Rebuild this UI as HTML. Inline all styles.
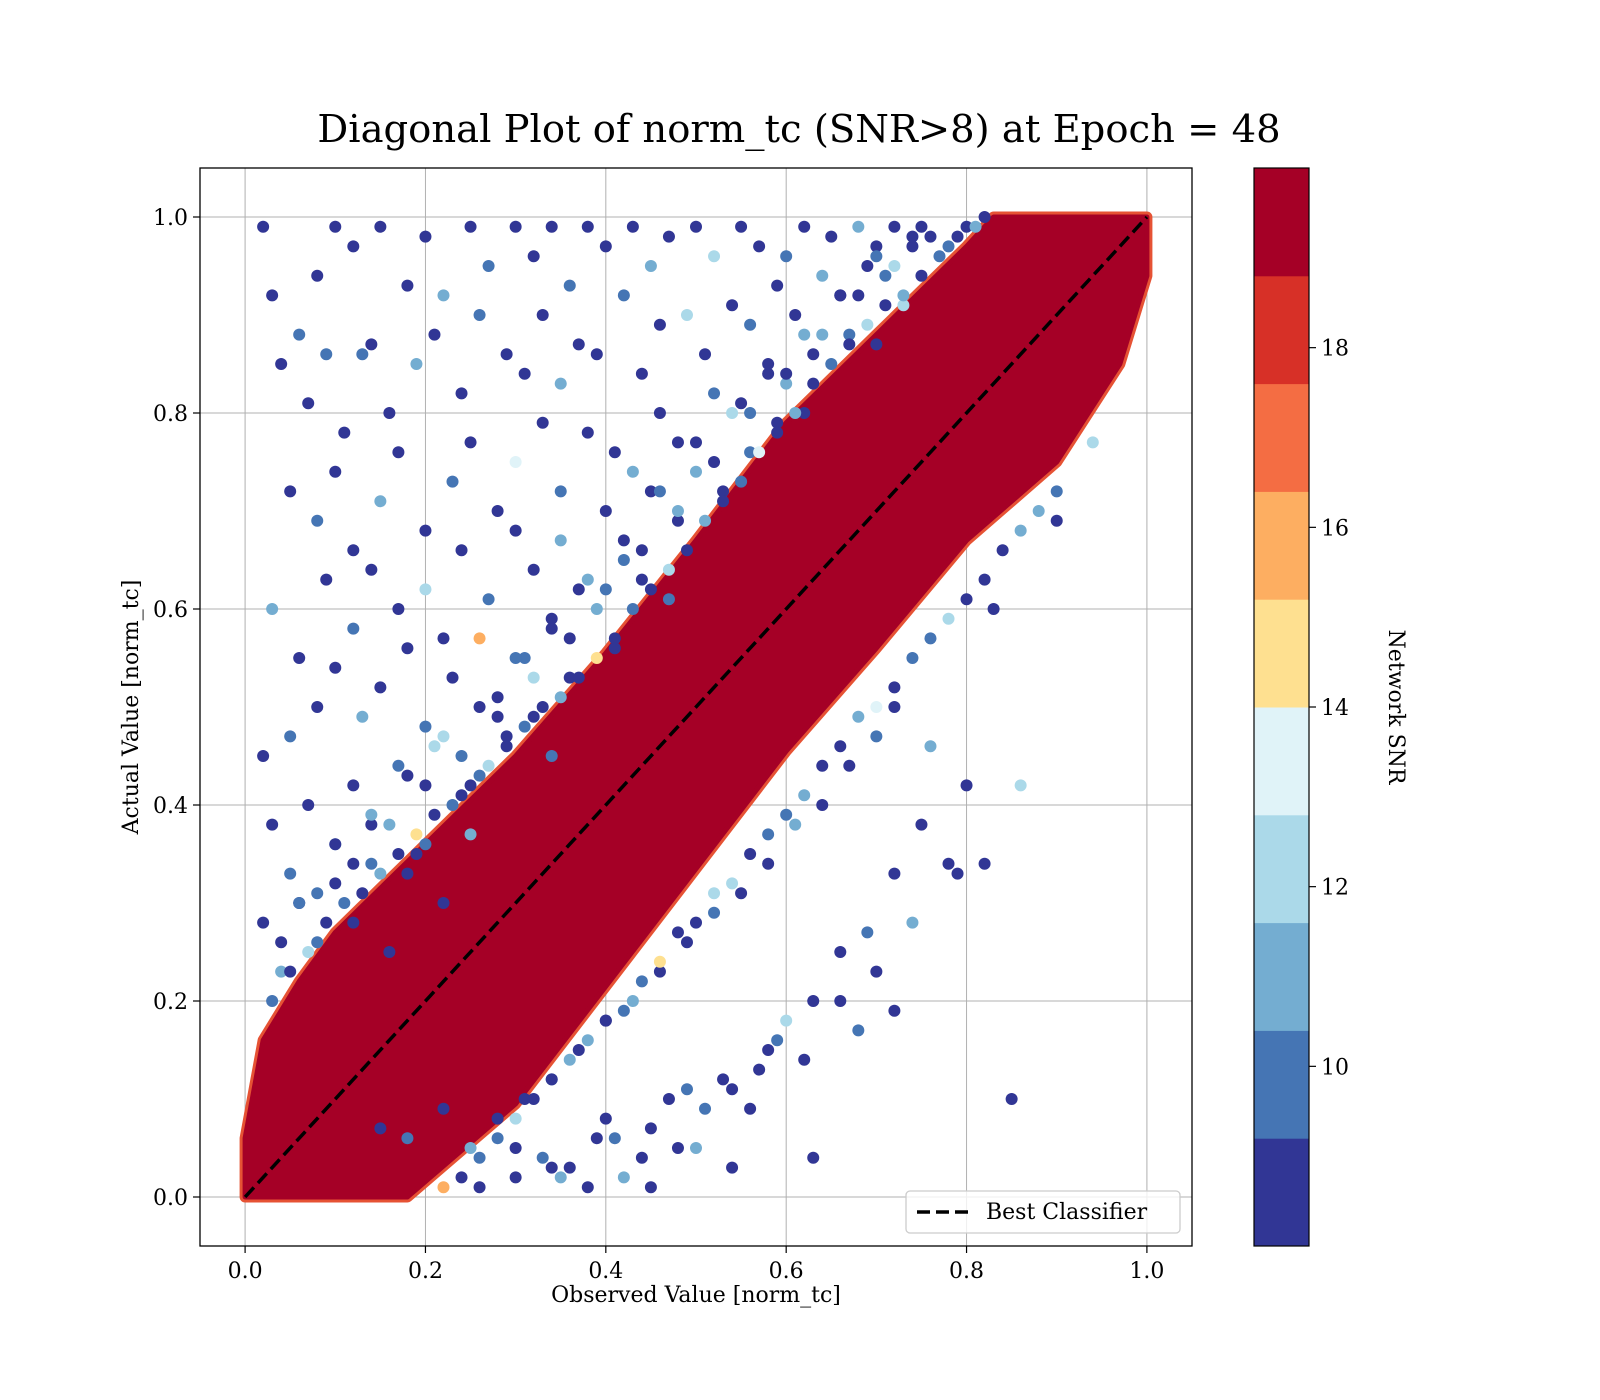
<!DOCTYPE html>
<html><head><meta charset="utf-8"><style>
body{margin:0;background:#fff}
svg{display:block;font-family:"DejaVu Serif","Liberation Serif",serif}
</style></head><body>
<svg id="chart" width="1600" height="1400" viewBox="0 0 1600 1400">
<text x="799" y="142" font-size="38.5" text-anchor="middle">Diagonal Plot of norm_tc (SNR&gt;8) at Epoch = 48</text>
<defs><clipPath id="clip"><rect x="200" y="168" width="992" height="1078"/></clipPath></defs>
<g id="grid"></g>
<g id="band" clip-path="url(#clip)"></g>
<g id="pts" clip-path="url(#clip)"></g>
<line id="diag" stroke="#000" stroke-width="3.5" stroke-dasharray="13,6"/>
<rect x="200" y="168" width="992" height="1078" fill="none" stroke="#000" stroke-width="1.3"/>
<g id="ticks" font-size="22"></g>
<text x="696" y="1302" font-size="22" text-anchor="middle">Observed Value [norm_tc]</text>
<text transform="translate(138,707) rotate(-90)" font-size="22" text-anchor="middle">Actual Value [norm_tc]</text>
<g>
<rect x="906" y="1191" width="274" height="42" rx="4" fill="#fff" fill-opacity="0.8" stroke="#ccc" stroke-width="1.3"/>
<line x1="917" y1="1212" x2="970" y2="1212" stroke="#000" stroke-width="3.5" stroke-dasharray="13,6"/>
<text x="986" y="1219" font-size="22">Best Classifier</text>
</g>
<g id="cbar"></g>
<text transform="translate(1389,707) rotate(90)" font-size="22" text-anchor="middle">Network SNR</text>
</svg>
<script>
const xTicks=[0,0.2,0.4,0.6,0.8,1.0];
const yTicks=[0,0.2,0.4,0.6,0.8,1.0];
const cbTicks=[10,12,14,16,18];
const cbColors=["#313695","#4575b4","#74add1","#abd9e9","#e0f3f8","#fee090","#fdae61","#f46d43","#d73027","#a50026"];
const bandUpper=[[0,0],[0,0.06],[0.02,0.16],[0.06,0.22],[0.1,0.27],[0.2,0.36],[0.3,0.45],[0.4,0.555],[0.5,0.67],[0.6,0.79],[0.7,0.88],[0.8,0.97],[0.83,1.0],[1.0,1.0]];
const bandLower=[[1.0,0.94],[0.97,0.85],[0.9,0.75],[0.8,0.67],[0.7,0.56],[0.6,0.455],[0.5,0.335],[0.4,0.215],[0.3,0.095],[0.18,0.0],[0,0]];
const ptX=[0.02,0.03,0.06,0.08,0.1,0.12,0.13,0.15,0.18,0.2,0.22,0.25,0.27,0.3,0.32,0.34,0.36,0.38,0.4,0.43,0.45,0.47,0.5,0.52,0.55,0.57,0.6,0.62,0.65,0.68,0.7,0.72,0.75,0.78,0.8,0.82,
0.04,0.07,0.09,0.11,0.14,0.16,0.19,0.21,0.24,0.26,0.29,0.31,0.33,0.35,0.37,0.39,0.42,0.44,0.46,0.49,0.51,0.54,0.56,0.59,0.61,0.64,0.66,0.69,0.71,0.74,
0.05,0.08,0.1,0.12,0.15,0.17,0.2,0.23,0.25,0.28,0.3,0.33,0.35,0.38,0.41,0.43,0.46,0.48,0.52,0.55,0.58,0.6,0.63,0.67,0.7,0.73,
0.03,0.06,0.09,0.12,0.14,0.17,0.2,0.22,0.24,0.27,0.3,0.32,0.35,0.37,0.4,0.42,0.45,0.48,0.5,0.53,0.56,0.59,0.62,
0.02,0.05,0.08,0.1,0.13,0.15,0.18,0.2,0.23,0.26,0.28,0.31,0.34,0.36,0.39,0.41,0.44,0.47,
0.03,0.05,0.07,0.1,0.12,0.14,0.17,0.19,0.21,0.24,0.26,0.29,0.32,0.34,
0.02,0.04,0.06,0.08,0.1,0.12,0.14,0.16,0.18,0.2,0.22,0.25,
0.15,0.18,0.22,0.25,0.28,0.31,0.34,0.37,0.4,0.43,0.46,0.49,0.52,0.55,0.58,0.61,0.64,0.67,0.7,0.72,0.76,0.8,0.86,
0.3,0.33,0.36,0.39,0.42,0.45,0.48,0.51,0.54,0.57,0.6,0.63,0.66,0.69,0.72,0.75,0.79,0.83,
0.34,0.38,0.41,0.44,0.47,0.5,0.53,0.56,0.59,0.62,0.66,0.7,0.74,0.78,0.82,0.9,
0.26,0.3,0.35,0.4,0.45,0.49,0.54,0.58,0.63,0.68,0.72,0.85,
0.03,0.05,0.07,0.09,0.11,0.13,0.15,0.17,0.19,0.21,0.23,0.25,0.27,0.29,0.31,0.33,0.35,0.37,0.39,0.41,0.43,0.45,0.47,0.49,0.51,0.53,0.55,0.57,0.59,0.61,0.63,0.65,0.67,0.69,0.71,0.73,0.75,0.77,0.79,0.81,
0.04,0.08,0.12,0.16,0.2,0.24,0.28,0.32,0.36,0.4,0.44,0.48,0.52,0.56,0.6,0.64,0.68,0.72,0.76,
0.22,0.26,0.3,0.34,0.38,0.42,0.46,0.5,0.54,0.58,0.62,0.66,0.7,0.74,0.78,0.82,0.86,0.9,0.94,
0.24,0.28,0.32,0.36,0.4,0.44,0.48,0.52,0.56,0.6,0.64,0.68,0.72,0.76,0.8,0.84,0.88,
0.06,0.1,0.14,0.18,0.22,0.26,0.3,0.34,0.38,0.42,0.46,0.5,0.54,0.58,0.62,0.66,0.7,0.74];
const ptY=[0.99,0.92,0.88,0.94,0.99,0.97,0.86,0.99,0.93,0.98,0.92,0.99,0.95,0.99,0.96,0.99,0.93,0.99,0.97,0.99,0.95,0.98,0.99,0.96,0.99,0.97,0.96,0.99,0.98,0.99,0.97,0.99,0.99,0.97,0.99,1.0,
0.85,0.81,0.86,0.78,0.87,0.8,0.85,0.88,0.82,0.9,0.86,0.84,0.9,0.83,0.87,0.86,0.92,0.84,0.89,0.9,0.86,0.91,0.89,0.93,0.9,0.94,0.92,0.95,0.94,0.97,
0.72,0.69,0.74,0.66,0.71,0.76,0.68,0.73,0.77,0.7,0.75,0.79,0.72,0.78,0.76,0.74,0.8,0.77,0.82,0.81,0.84,0.83,0.86,0.88,0.87,0.91,
0.6,0.55,0.63,0.58,0.64,0.6,0.62,0.57,0.66,0.61,0.68,0.64,0.67,0.62,0.7,0.65,0.72,0.69,0.74,0.72,0.76,0.79,0.8,
0.45,0.47,0.5,0.54,0.49,0.52,0.56,0.48,0.53,0.57,0.51,0.55,0.59,0.53,0.6,0.56,0.63,0.61,
0.38,0.33,0.4,0.36,0.42,0.38,0.44,0.35,0.46,0.41,0.43,0.47,0.49,0.45,
0.28,0.23,0.3,0.26,0.32,0.28,0.34,0.25,0.33,0.36,0.3,0.37,
0.07,0.06,0.09,0.05,0.08,0.1,0.12,0.15,0.18,0.2,0.23,0.26,0.29,0.31,0.34,0.38,0.4,0.44,0.47,0.5,0.46,0.42,0.42,
0.02,0.04,0.03,0.06,0.02,0.07,0.05,0.09,0.11,0.13,0.18,0.2,0.25,0.27,0.33,0.38,0.33,0.6,
0.03,0.01,0.06,0.04,0.1,0.05,0.12,0.09,0.16,0.14,0.2,0.23,0.28,0.34,0.34,0.69,
0.01,0.05,0.02,0.08,0.01,0.11,0.03,0.15,0.04,0.17,0.19,0.1,
0.2,0.23,0.25,0.28,0.3,0.31,0.33,0.35,0.37,0.39,0.4,0.42,0.44,0.46,0.48,0.5,0.51,0.53,0.55,0.57,0.6,0.62,0.64,0.66,0.69,0.71,0.73,0.76,0.78,0.8,0.83,0.85,0.87,0.89,0.91,0.92,0.94,0.96,0.98,0.99,
0.26,0.31,0.34,0.38,0.42,0.45,0.49,0.53,0.57,0.62,0.66,0.7,0.75,0.8,0.84,0.88,0.92,0.95,0.98,
0.01,0.04,0.08,0.12,0.16,0.19,0.24,0.28,0.32,0.37,0.41,0.46,0.5,0.55,0.59,0.63,0.68,0.72,0.77,
0.02,0.06,0.1,0.14,0.18,0.22,0.27,0.31,0.35,0.39,0.44,0.49,0.52,0.57,0.61,0.66,0.7,
0.3,0.36,0.39,0.43,0.47,0.5,0.55,0.58,0.63,0.67,0.72,0.77,0.8,0.85,0.88,0.92,0.96,0.98];
const ptSnr=[8.5,8.5,10,8.5,8.5,8.5,10,8.5,8.5,8.5,11,8.5,10,8.5,8.5,8.5,10,8.5,8.5,8.5,11,8.5,8.5,12,8.5,8.5,10,8.5,8.5,11,8.5,8.5,8.5,10,8.5,8.5,
8.5,8.5,10,8.5,8.5,8.5,11,8.5,8.5,10,8.5,8.5,8.5,11,8.5,8.5,10,8.5,8.5,12,8.5,8.5,10,8.5,8.5,11,8.5,8.5,10,8.5,
8.5,10,8.5,8.5,11,8.5,8.5,10,8.5,8.5,13,8.5,10,8.5,8.5,11,8.5,8.5,10,8.5,8.5,11,8.5,10,8.5,12,
11,8.5,8.5,10,8.5,8.5,12,8.5,8.5,10,8.5,8.5,11,8.5,8.5,10,8.5,8.5,11,8.5,10,8.5,8.5,
8.5,10,8.5,8.5,11,8.5,8.5,10,8.5,16,8.5,10,8.5,8.5,11,8.5,8.5,10,
8.5,10,8.5,11,8.5,8.5,10,8.5,12,8.5,10,8.5,8.5,10,
8.5,11,8.5,10,8.5,8.5,10,8.5,8.5,10,8.5,11,
8.5,10,8.5,11,8.5,8.5,10,8.5,8.5,11,8.5,8.5,10,8.5,8.5,11,8.5,8.5,10,8.5,11,8.5,12,
8.5,10,8.5,8.5,11,8.5,8.5,10,8.5,8.5,12,8.5,8.5,10,8.5,8.5,8.5,8.5,
8.5,8.5,10,8.5,8.5,11,8.5,8.5,10,8.5,8.5,8.5,11,8.5,8.5,8.5,
8.5,8.5,11,8.5,8.5,10,8.5,8.5,8.5,10,8.5,8.5,
10,8.5,12,8.5,10,8.5,11,8.5,14,8.5,10,8.5,12,8.5,10,8.5,11,8.5,15,8.5,10,8.5,12,8.5,11,8.5,10,13,8.5,11,8.5,10,8.5,12,8.5,11,8.5,10,8.5,11,
8.5,10,8.5,11,8.5,10,8.5,12,8.5,10,8.5,11,8.5,10,8.5,11,8.5,12,8.5,
16,10,12,8.5,11,10,15,8.5,12,10,11,8.5,13,10,12,8.5,11,10,12,
8.5,10,8.5,11,8.5,10,8.5,12,8.5,10,8.5,11,8.5,10,8.5,8.5,11,
10,8.5,11,8.5,12,8.5,10,8.5,11,8.5,10,8.5,12,8.5,11,8.5,10,8.5];
const NS="http://www.w3.org/2000/svg";
const X0=200,X1=1192,Y0=1246,Y1=168,DMIN=-0.05,DMAX=1.05;
const sx=v=>X0+(v-DMIN)/(DMAX-DMIN)*(X1-X0);
const sy=v=>Y0-(v-DMIN)/(DMAX-DMIN)*(Y0-Y1);
const CBX=1254,CBW=55,CB0=1246,CB1=168,CMIN=8,CMAX=20;
const cy=v=>CB0-(v-CMIN)/(CMAX-CMIN)*(CB0-CB1);
const col=s=>cbColors[Math.max(0,Math.min(9,Math.floor((s-CMIN)/1.2)))];
function mk(tag,attrs,parent){const e=document.createElementNS(NS,tag);for(const k in attrs)e.setAttribute(k,attrs[k]);parent.appendChild(e);return e;}
const grid=document.getElementById('grid'),ticks=document.getElementById('ticks');
xTicks.forEach(t=>{
  const g=mk('line',{x1:sx(t),x2:sx(t),y1:Y1,y2:Y0,stroke:'#b0b0b0','stroke-width':1},grid);
  
  
  const tk=mk('line',{x1:sx(t),x2:sx(t),y1:Y0,y2:Y0+7,stroke:'#000','stroke-width':1.2},ticks);
  
  
  const tx=mk('text',{x:sx(t),y:Y0+32,'text-anchor':'middle'},ticks);tx.textContent=t.toFixed(1);
  
  
});
yTicks.forEach(t=>{
  const g=mk('line',{x1:X0,x2:X1,y1:sy(t),y2:sy(t),stroke:'#b0b0b0','stroke-width':1},grid);
  
  
  const tk=mk('line',{x1:X0-7,x2:X0,y1:sy(t),y2:sy(t),stroke:'#000','stroke-width':1.2},ticks);
  
  
  const tx=mk('text',{x:X0-12,y:sy(t)+8,'text-anchor':'end'},ticks);tx.textContent=t.toFixed(1);
  
  
});
const band=document.getElementById('band');
const poly=bandUpper.concat(bandLower).map(p=>sx(p[0])+','+sy(p[1])).join(' ');
const fr=mk('polygon',{points:poly,fill:'#d73027',stroke:'#e65234','stroke-width':11,'stroke-linejoin':'round'},band);


const bp=mk('polygon',{points:poly,fill:'#a50026',stroke:'#a50026','stroke-width':5,'stroke-linejoin':'round'},band);


const pts=document.getElementById('pts');
ptX.forEach((x,i)=>{
  const c=mk('circle',{cx:sx(x),cy:sy(ptY[i]),r:6,fill:col(ptSnr[i])},pts);
  
  
});
const d=document.getElementById('diag');
d.setAttribute('x1',sx(0));d.setAttribute('y1',sy(0));d.setAttribute('x2',sx(1));d.setAttribute('y2',sy(1));
const cb=document.getElementById('cbar');
cbColors.forEach((c,i)=>{
  const lo=CMIN+i*1.2,hi=lo+1.2;
  const r=mk('rect',{x:CBX,y:cy(hi),width:CBW,height:cy(lo)-cy(hi)+0.5,fill:c},cb);
  
  
});
const fr2=mk('rect',{x:CBX,y:CB1,width:CBW,height:CB0-CB1,fill:'none',stroke:'#000','stroke-width':1.2},cb);


cbTicks.forEach(t=>{
  const l=mk('line',{x1:CBX+CBW,x2:CBX+CBW+7,y1:cy(t),y2:cy(t),stroke:'#000','stroke-width':1.2},cb);
  
  
  const tx=mk('text',{x:CBX+CBW+12,y:cy(t)+8,'font-size':22},cb);tx.textContent=t;
  
  
});
</script>
</body></html>
